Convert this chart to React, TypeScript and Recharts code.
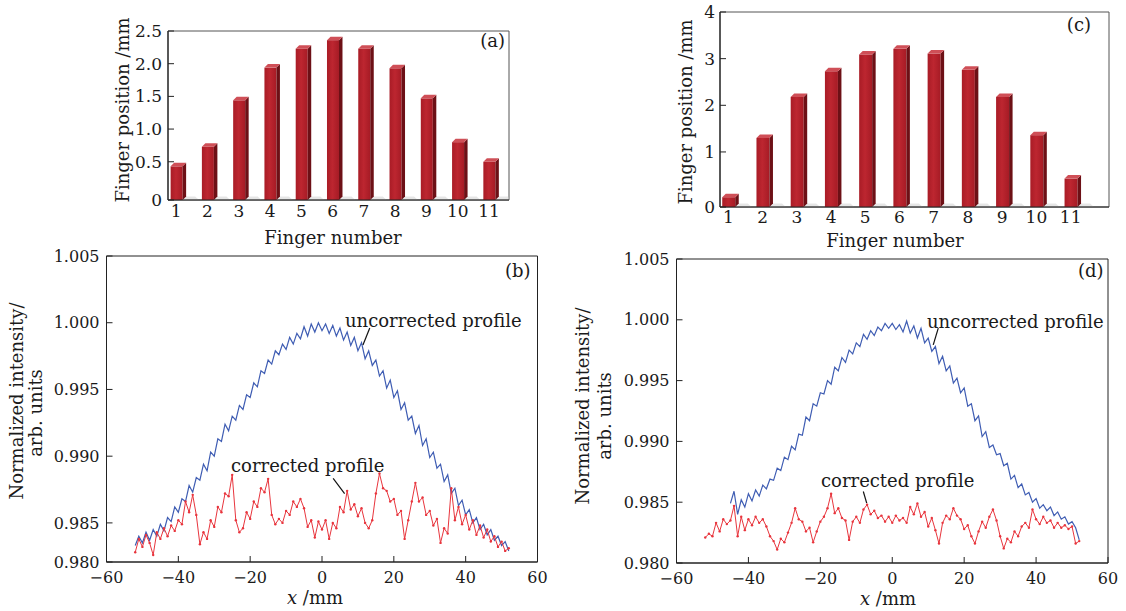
import React from 'react';
import { BarChart, Bar, XAxis, YAxis, LineChart, Line, ReferenceArea, ReferenceLine } from 'recharts';

const FONT = '"DejaVu Serif", "Liberation Serif", serif';
const INK = '#1a1a1a';
const BLUE = '#3f5db3';
const RED = '#e8353d';

// ---------- bar panels (a) and (c) ----------
const FINGER_NUMBERS = [1, 2, 3, 4, 5, 6, 7, 8, 9, 10, 11];
const A_POSITIONS = [0.43, 0.73, 1.44, 1.94, 2.23, 2.36, 2.23, 1.93, 1.47, 0.8, 0.5];
const C_POSITIONS = [0.03, 1.3, 2.18, 2.73, 3.09, 3.21, 3.11, 2.76, 2.18, 1.36, 0.43];
const A_Y_TICKS = [-0.085, 0.5, 1.0, 1.5, 2.0, 2.5];
const A_Y_LABELS = ['0', '0.5', '1.0', '1.5', '2.0', '2.5'];
const C_Y_TICKS = [-0.18, 1, 2, 3, 4];
const C_Y_LABELS = ['0', '1', '2', '3', '4'];
const A_X_DOMAIN = [0.736, 11.64];
const C_X_DOMAIN = [0.756, 12.12];

// ---------- profile panels (b) and (d) ----------
const X_MM = [-52, -51, -50, -49, -48, -47, -46, -45, -44, -43, -42, -41, -40, -39, -38, -37, -36, -35, -34, -33, -32, -31, -30, -29, -28, -27, -26, -25, -24, -23, -22, -21, -20, -19, -18, -17, -16, -15, -14, -13, -12, -11, -10, -9, -8, -7, -6, -5, -4, -3, -2, -1, 0, 1, 2, 3, 4, 5, 6, 7, 8, 9, 10, 11, 12, 13, 14, 15, 16, 17, 18, 19, 20, 21, 22, 23, 24, 25, 26, 27, 28, 29, 30, 31, 32, 33, 34, 35, 36, 37, 38, 39, 40, 41, 42, 43, 44, 45, 46, 47, 48, 49, 50, 51, 52];

const B_UNCORRECTED = [0.9833, 0.984, 0.9835, 0.9843, 0.9837, 0.9845, 0.984, 0.9849, 0.9844, 0.9854, 0.9851, 0.9862, 0.9858, 0.9868, 0.9866, 0.9878, 0.9873, 0.9884, 0.9882, 0.9894, 0.9889, 0.9903, 0.99, 0.9913, 0.9911, 0.9924, 0.9919, 0.993, 0.9927, 0.9938, 0.9935, 0.9946, 0.9944, 0.9955, 0.9952, 0.9964, 0.9962, 0.9972, 0.9969, 0.9979, 0.9976, 0.9984, 0.998, 0.9989, 0.9984, 0.9992, 0.9988, 0.9997, 0.999, 0.9999, 0.9993, 1.0, 0.9994, 0.9999, 0.9992, 0.9998, 0.999, 0.9996, 0.9987, 0.9993, 0.9983, 0.9989, 0.9979, 0.9985, 0.9973, 0.9979, 0.9968, 0.9972, 0.996, 0.9964, 0.9951, 0.9957, 0.9944, 0.9949, 0.9935, 0.994, 0.9927, 0.993, 0.9917, 0.9923, 0.9908, 0.9913, 0.9899, 0.9903, 0.9891, 0.9894, 0.9881, 0.9886, 0.9872, 0.9876, 0.9863, 0.9867, 0.9856, 0.986, 0.985, 0.9854, 0.9845, 0.9849, 0.9841, 0.9845, 0.9837, 0.984, 0.9833, 0.9836, 0.9829];
const B_CORRECTED = [0.9828, 0.9838, 0.9832, 0.9841, 0.9835, 0.9826, 0.9843, 0.9838, 0.9846, 0.984, 0.9848, 0.9844, 0.9852, 0.9849, 0.9866, 0.9858, 0.9871, 0.9856, 0.9834, 0.9843, 0.9838, 0.9852, 0.9847, 0.9862, 0.9858, 0.9872, 0.987, 0.9886, 0.9852, 0.9843, 0.9846, 0.9858, 0.9853, 0.9866, 0.9862, 0.9876, 0.9873, 0.9883, 0.9856, 0.9849, 0.9853, 0.985, 0.9859, 0.9856, 0.9866, 0.9862, 0.9868, 0.9861, 0.9847, 0.9852, 0.9839, 0.9851, 0.9845, 0.9852, 0.9838, 0.985, 0.9846, 0.9862, 0.9858, 0.9874, 0.986, 0.9864, 0.9855, 0.9861, 0.985, 0.9846, 0.9852, 0.9872, 0.9887, 0.9876, 0.9874, 0.9866, 0.9868, 0.9856, 0.9859, 0.9838, 0.9852, 0.9866, 0.988, 0.9866, 0.9869, 0.9856, 0.9859, 0.9848, 0.9853, 0.9835, 0.9846, 0.9842, 0.9876, 0.9852, 0.9862, 0.9849, 0.9856, 0.9845, 0.9852, 0.9841, 0.9848, 0.9839, 0.9845, 0.9836, 0.984, 0.9832, 0.9836, 0.9829, 0.9831];

const D_UNCORRECTED_X = X_MM.slice(7); // -45 .. 52
const D_UNCORRECTED = [0.9849, 0.9859, 0.984, 0.9852, 0.9846, 0.9857, 0.9851, 0.986, 0.9855, 0.9864, 0.9861, 0.9869, 0.9868, 0.9878, 0.9876, 0.9887, 0.9885, 0.9896, 0.9893, 0.9906, 0.9905, 0.992, 0.9917, 0.9931, 0.9929, 0.994, 0.9939, 0.995, 0.9947, 0.9961, 0.9958, 0.9969, 0.9965, 0.9975, 0.9972, 0.9981, 0.9978, 0.9988, 0.9984, 0.9991, 0.9987, 0.9994, 0.9991, 0.9997, 0.9993, 0.9997, 0.9992, 0.9996, 0.999, 0.9999, 0.9989, 0.9995, 0.9985, 0.9993, 0.9981, 0.9985, 0.9974, 0.9978, 0.9964, 0.997, 0.9958, 0.9962, 0.9948, 0.9952, 0.994, 0.9944, 0.9929, 0.9931, 0.9917, 0.9921, 0.9904, 0.9908, 0.9895, 0.9897, 0.9889, 0.989, 0.988, 0.9882, 0.9869, 0.9872, 0.9862, 0.9865, 0.9856, 0.9858, 0.985, 0.9853, 0.9845, 0.9848, 0.9843, 0.9846, 0.9839, 0.9842, 0.9836, 0.9838, 0.9832, 0.9834, 0.9829, 0.9819];
const D_CORRECTED = [0.9821, 0.9824, 0.9822, 0.9833, 0.9826, 0.9836, 0.9832, 0.9835, 0.9847, 0.9822, 0.9838, 0.9827, 0.9836, 0.9831, 0.9838, 0.9833, 0.9836, 0.983, 0.9822, 0.9818, 0.9811, 0.982, 0.9817, 0.9825, 0.9833, 0.9845, 0.9836, 0.9834, 0.9826, 0.9829, 0.9817, 0.9826, 0.9834, 0.9838, 0.9845, 0.9857, 0.9841, 0.9845, 0.9837, 0.9835, 0.9819, 0.9834, 0.9838, 0.9833, 0.9844, 0.9848, 0.984, 0.9843, 0.9837, 0.9839, 0.9834, 0.9838, 0.9833, 0.9839, 0.9835, 0.9837, 0.9833, 0.9846, 0.984, 0.9849, 0.9838, 0.9842, 0.983, 0.9837, 0.9827, 0.9816, 0.9833, 0.9839, 0.9836, 0.9845, 0.9839, 0.9836, 0.9828, 0.9831, 0.9822, 0.9816, 0.9826, 0.9834, 0.9829, 0.9838, 0.9844, 0.9835, 0.9822, 0.9812, 0.982, 0.9817, 0.9826, 0.9822, 0.983, 0.9833, 0.9829, 0.9844, 0.9836, 0.9832, 0.9838, 0.9833, 0.9835, 0.9829, 0.9833, 0.9829, 0.9831, 0.9828, 0.983, 0.9816, 0.9818];

const X_TICKS = [-60, -40, -20, 0, 20, 40, 60];
const X_TICK_LABELS = ['\u221260', '\u221240', '\u221220', '0', '20', '40', '60'];
const B_Y_TICKS = [0.98207, 0.985, 0.99, 0.995, 1.0, 1.005];
const B_Y_LABELS = ['0.980', '0.985', '0.990', '0.995', '1.000', '1.005'];
const D_Y_TICKS = [0.98, 0.985, 0.99, 0.995, 1.0, 1.005];
const D_Y_LABELS = ['0.980', '0.985', '0.990', '0.995', '1.000', '1.005'];

const barRows = (vals: number[]) => FINGER_NUMBERS.map((f, i) => ({ finger: f, pos: vals[i] }));
const lineRows = (xs: number[], vals: number[]) => xs.map((x, i) => ({ x, v: vals[i] }));

const labelFrom = (ticks: number[], labels: string[]) => (v: number) => {
  const i = ticks.indexOf(v);
  return i >= 0 ? labels[i] : String(v);
};

const Bar3D = (props: any) => {
  const { x, y, width, height, background } = props;
  if (x == null || y == null) return null;
  const d = props.depth || 3.5;
  const floor = background && background.height ? background.y + background.height : y + height;
  const w = width;
  return (
    <g>
      <polygon
        points={`${x + 2},${floor} ${x + w + d + 13},${floor} ${x + w + d + 9},${floor - 3.5} ${x + d + 2},${floor - 3.5}`}
        fill="#c8c8c8"
        opacity={0.45}
      />
      <rect x={x} y={y} width={w} height={floor - y} fill="url(#barFront)" />
      <polygon points={`${x + w},${y} ${x + w + d},${y - d} ${x + w + d},${floor - d} ${x + w},${floor}`} fill="#6d1016" />
      <polygon points={`${x},${y} ${x + d},${y - d} ${x + w + d},${y - d} ${x + w},${y}`} fill="#cf4f57" />
    </g>
  );
};

const tickStyleBar = { fontFamily: FONT, fontSize: 17, fill: INK };
const tickStyleLine = { fontFamily: FONT, fontSize: 16, fill: INK };

function FingerPanel(props: {
  values: number[];
  xDomain: number[];
  yTicks: number[];
  yLabels: string[];
  yMax: number;
  width: number;
  height: number;
  margin: any;
  yWidth: number;
  xHeight: number;
  barSize: number;
  yTickMargin: number;
  xTickMargin: number;
}) {
  const { values, xDomain, yTicks, yLabels, yMax } = props;
  return (
    <BarChart width={props.width} height={props.height} data={barRows(values)} margin={props.margin}>
      <defs>
        <linearGradient id="barFront" x1="0" y1="0" x2="1" y2="0">
          <stop offset="0%" stopColor="#a91c26" />
          <stop offset="45%" stopColor="#bd2630" />
          <stop offset="100%" stopColor="#a61b25" />
        </linearGradient>
      </defs>
      <XAxis
        dataKey="finger"
        type="number"
        domain={xDomain}
        ticks={FINGER_NUMBERS}
        allowDataOverflow
        height={props.xHeight}
        tickLine={false}
        tickSize={0}
        tickMargin={props.xTickMargin}
        axisLine={{ stroke: '#222', strokeWidth: 1.2 }}
        tick={tickStyleBar}
        interval={0}
      />
      <YAxis
        type="number"
        domain={[yTicks[0], yMax]}
        ticks={yTicks}
        tickFormatter={labelFrom(yTicks, yLabels)}
        allowDataOverflow
        width={props.yWidth}
        tickSize={-6}
        tickMargin={props.yTickMargin}
        axisLine={{ stroke: '#222', strokeWidth: 1.2 }}
        tickLine={{ stroke: '#222' }}
        tick={tickStyleBar}
        interval={0}
      />
      <ReferenceArea x1={xDomain[0]} x2={xDomain[1]} y1={yTicks[0]} y2={yMax} fill="none" stroke="#555" strokeWidth={1} ifOverflow="visible" />
      <Bar dataKey="pos" barSize={props.barSize} isAnimationActive={false} shape={(p: any) => <Bar3D {...p} depth={3.5} />} />
    </BarChart>
  );
}

function ProfilePanel(props: {
  uncorrected: { x: number; v: number }[];
  corrected: { x: number; v: number }[];
  yTicks: number[];
  yLabels: string[];
  width: number;
  height: number;
  margin: any;
  leaderU: { x: number; y: number }[];
  leaderC: { x: number; y: number }[];
}) {
  const { yTicks, yLabels } = props;
  const yMin = yTicks[0];
  const yMax = yTicks[yTicks.length - 1];
  return (
    <LineChart width={props.width} height={props.height} margin={props.margin}>
      <XAxis
        dataKey="x"
        type="number"
        domain={[-60, 60]}
        ticks={X_TICKS}
        tickFormatter={labelFrom(X_TICKS, X_TICK_LABELS)}
        allowDataOverflow
        height={40}
        tickSize={-6}
        tickMargin={16}
        axisLine={{ stroke: '#222' }}
        tickLine={{ stroke: '#222' }}
        tick={tickStyleLine}
        interval={0}
      />
      <YAxis
        type="number"
        domain={[yMin, yMax]}
        ticks={yTicks}
        tickFormatter={labelFrom(yTicks, yLabels)}
        allowDataOverflow
        width={66.5}
        tickSize={-6}
        tickMargin={13}
        axisLine={{ stroke: '#222' }}
        tickLine={{ stroke: '#222' }}
        tick={tickStyleLine}
        interval={0}
      />
      <ReferenceArea x1={-60} x2={60} y1={yMin} y2={yMax} fill="none" stroke="#222" strokeWidth={1} ifOverflow="visible" />
      <Line
        data={props.uncorrected}
        dataKey="v"
        name="uncorrected"
        type="linear"
        stroke={BLUE}
        strokeWidth={1.2}
        dot={false}
        isAnimationActive={false}
      />
      <Line
        data={props.corrected}
        dataKey="v"
        name="corrected"
        type="linear"
        stroke={RED}
        strokeWidth={1}
        dot={{ r: 1.2, fill: RED, stroke: 'none' }}
        isAnimationActive={false}
      />
      <ReferenceLine segment={props.leaderU} stroke="#111" strokeWidth={1.2} ifOverflow="visible" />
      <ReferenceLine segment={props.leaderC} stroke="#111" strokeWidth={1.2} ifOverflow="visible" />
    </LineChart>
  );
}

const abs = (left: number, top: number): React.CSSProperties => ({ position: 'absolute', left, top });

export default function App() {
  const txt = { fontFamily: FONT, fontSize: 18, fill: INK } as any;
  return (
    <div style={{ position: 'absolute', left: 0, top: 0, width: 1126, height: 611, background: '#fff', overflow: 'hidden' }}>
      <div style={abs(100, 10)}>
        <FingerPanel
          values={A_POSITIONS}
          xDomain={A_X_DOMAIN}
          yTicks={A_Y_TICKS}
          yLabels={A_Y_LABELS}
          yMax={2.5}
          width={420}
          height={240}
          margin={{ top: 21, right: 11, left: 0, bottom: 0 }}
          yWidth={68}
          xHeight={50}
          barSize={12}
          yTickMargin={12}
          xTickMargin={5}
        />
      </div>
      <div style={abs(650, 0)}>
        <FingerPanel
          values={C_POSITIONS}
          xDomain={C_X_DOMAIN}
          yTicks={C_Y_TICKS}
          yLabels={C_Y_LABELS}
          yMax={4}
          width={476}
          height={260}
          margin={{ top: 12, right: 17, left: 0, bottom: 0 }}
          yWidth={70}
          xHeight={53}
          barSize={13}
          yTickMargin={11}
          xTickMargin={4}
        />
      </div>
      <div style={abs(40, 240)}>
        <ProfilePanel
          uncorrected={lineRows(X_MM, B_UNCORRECTED)}
          corrected={lineRows(X_MM, B_CORRECTED)}
          yTicks={B_Y_TICKS}
          yLabels={B_Y_LABELS}
          width={520}
          height={371}
          margin={{ top: 16, right: 22.5, left: 0, bottom: 9 }}
          leaderU={[{ x: 13.3, y: 0.9996 }, { x: 11.4, y: 0.99833 }]}
          leaderC={[{ x: 3.1, y: 0.98833 }, { x: 6.3, y: 0.9872 }]}
        />
      </div>
      <div style={abs(610, 240)}>
        <ProfilePanel
          uncorrected={lineRows(D_UNCORRECTED_X, D_UNCORRECTED)}
          corrected={lineRows(X_MM, D_CORRECTED)}
          yTicks={D_Y_TICKS}
          yLabels={D_Y_LABELS}
          width={516}
          height={371}
          margin={{ top: 19, right: 18, left: 0, bottom: 8 }}
          leaderU={[{ x: 12.8, y: 0.99932 }, { x: 11.4, y: 0.99794 }]}
          leaderC={[{ x: -8.05, y: 0.98588 }, { x: -7.1, y: 0.98493 }]}
        />
      </div>
      <svg width={1126} height={611} style={{ position: 'absolute', left: 0, top: 0, pointerEvents: 'none' }}>
        <g style={{ fontFamily: FONT }}>
          <text {...txt} x={505} y={47} textAnchor="end">(a)</text>
          <text {...txt} x={1091} y={31} textAnchor="end">(c)</text>
          <text {...txt} x={530.5} y={277} textAnchor="end">(b)</text>
          <text {...txt} x={1103.5} y={277} textAnchor="end">(d)</text>

          <text {...txt} x={345} y={327}>uncorrected profile</text>
          <text {...txt} x={231} y={471.5}>corrected profile</text>
          <text {...txt} x={927} y={328}>uncorrected profile</text>
          <text {...txt} x={821} y={486.5}>corrected profile</text>

          <text {...txt} textAnchor="middle" transform="translate(129,110) rotate(-90)">Finger position /mm</text>
          <text {...txt} textAnchor="middle" transform="translate(692,112) rotate(-90)">Finger position /mm</text>
          <text {...txt} x={333} y={243.5} textAnchor="middle">Finger number</text>
          <text {...txt} x={895} y={247} textAnchor="middle">Finger number</text>

          <text {...txt} textAnchor="middle" transform="translate(22.5,401) rotate(-90)">Normalized intensity/</text>
          <text {...txt} textAnchor="middle" transform="translate(42,413) rotate(-90)">arb. units</text>
          <text {...txt} textAnchor="middle" transform="translate(589,406) rotate(-90)">Normalized intensity/</text>
          <text {...txt} textAnchor="middle" transform="translate(610.5,416) rotate(-90)">arb. units</text>

          <text {...txt} x={315} y={604} textAnchor="middle">
            <tspan fontStyle="italic">x</tspan> /mm
          </text>
          <text {...txt} x={888} y={605} textAnchor="middle">
            <tspan fontStyle="italic">x</tspan> /mm
          </text>
        </g>
      </svg>
    </div>
  );
}
